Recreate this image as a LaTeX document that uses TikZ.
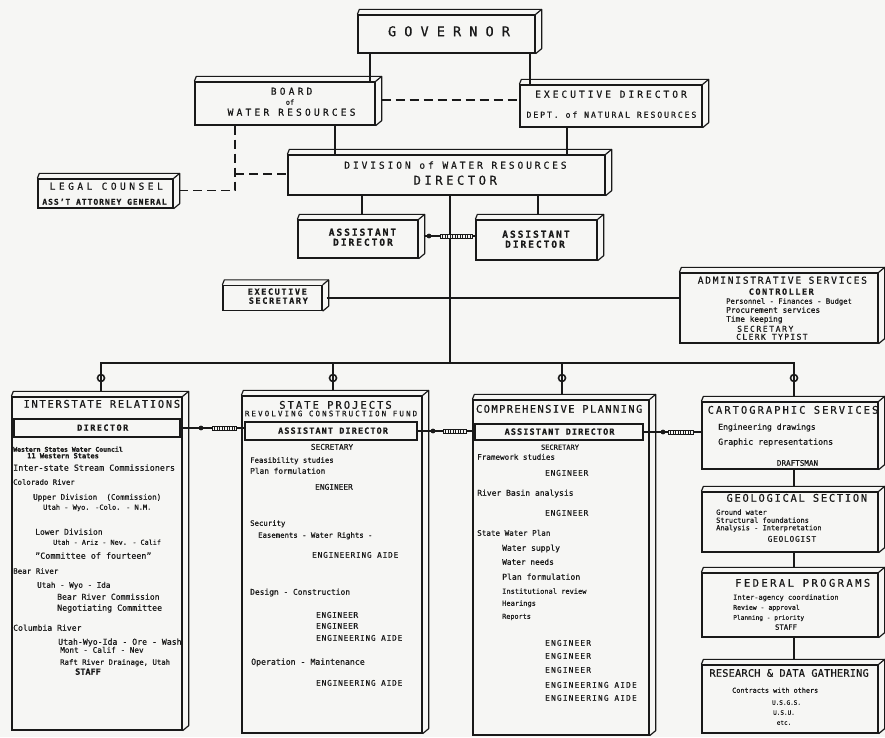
\documentclass[tikz,border=0pt]{standalone}
\usepackage{fontspec}
\setmainfont{DejaVu Sans Mono}
\setmonofont{DejaVu Sans Mono}
\definecolor{ink}{RGB}{25,25,25}
\definecolor{bg}{RGB}{246,246,244}
\newcommand\Fs[2]{\fontsize{#1}{#1}\selectfont\addfontfeature{LetterSpace=#2,FakeBold=0.5}}
\newcommand\tdbox[1]{%
  \draw[face] (#1.north west) -- ++(2,-5) -- ([shift={(6,-5)}]#1.north east) -- ([shift={(6,-5)}]#1.south east) -- (#1.south east);
  \draw[face] (#1.north east) -- ++(6,-5);}
\tikzset{
  box/.style={draw=ink, line width=1.3pt, inner sep=0pt},
  face/.style={draw=ink, line width=1.2pt, line join=round},
  conn/.style={draw=ink, line width=1.3pt},
  heavy/.style={draw=ink, line width=2.2pt},
  dsh/.style={draw=ink, line width=1.3pt, dash pattern=on 9pt off 5pt},
  txt/.style={inner sep=0pt, anchor=mid west, text=ink},
  ctxt/.style={inner sep=0pt, anchor=mid, text=ink},
  coilline/.style={draw=ink, line width=0.8pt},
  pics/coil/.style={code={
    \draw[coilline, fill=bg] (0,-2) rectangle (#1,2);
    \pgfmathsetmacro\cend{#1-1.5}
    \foreach \k in {2.5,5,...,\cend} \draw[coilline] (\k,-2) -- (\k,2);
  }}
}
\begin{document}
\begin{tikzpicture}[x=1pt,y=-1pt]
\fill[bg] (0,0) rectangle (885,737);
\useasboundingbox (0,0) rectangle (885,737);

% ---------- boxes ----------
\node[box, minimum width=177, minimum height=38] (gov) at (446.5,34) {};
\node[box, minimum width=180, minimum height=43] (board) at (285,103.5) {};
\node[box, minimum width=182, minimum height=42] (exec) at (611,106) {};
\node[box, minimum width=317, minimum height=40] (div) at (446.5,175) {};
\node[box, minimum width=135, minimum height=29] (legal) at (105.5,193.5) {};
\node[box, minimum width=120, minimum height=38] (asl) at (358,239) {};
\node[box, minimum width=121, minimum height=40] (asr) at (536.5,240) {};
\node[box, minimum width=99, minimum height=25] (esec) at (272.5,298) {};
\node[box, minimum width=198, minimum height=70] (admin) at (779,308) {};
\node[box, minimum width=170, minimum height=333] (inter) at (97,563.5) {};
\node[box, minimum width=180, minimum height=337] (state) at (332,564.5) {};
\node[box, minimum width=176, minimum height=335] (comp) at (561,567.5) {};
\node[box, minimum width=176, minimum height=67] (cart) at (790,435.5) {};
\node[box, minimum width=176, minimum height=60] (geo) at (790,522) {};
\node[box, minimum width=176, minimum height=64] (fed) at (790,605) {};
\node[box, minimum width=176, minimum height=68] (res) at (790,699) {};
\foreach \b in {gov,board,exec,div,legal,asl,asr,esec,admin,inter,state,comp,cart,geo,fed,res} {\tdbox{\b}}
\node[box, minimum width=166, minimum height=18] (idir) at (97,428) {};
\node[box, minimum width=172, minimum height=18] (sdir) at (331,431) {};
\node[box, minimum width=168, minimum height=16] (cdir) at (559,432) {};

% ---------- coordinates ----------
\coordinate (bL) at (101,363);
\coordinate (bS) at (333,363);
\coordinate (bM) at (450,363);
\coordinate (bC) at (562,363);
\coordinate (bR) at (794,363);
\coordinate (dj) at (235,174);

% ---------- solid connectors ----------
\draw[conn] (gov.south -| 370,0) -- (board.north -| 370,0);
\draw[conn] (gov.south -| 530,0) -- (exec.north -| 530,0);
\draw[conn] (board.south -| 335,0) -- (div.north -| 335,0);
\draw[conn] (exec.south -| 567,0) -- (div.north -| 567,0);
\draw[conn] (div.south -| 362,0) -- ([yshift=5pt]asl.north -| 362,0);
\draw[conn] (div.south -| 538,0) -- ([yshift=5pt]asr.north -| 538,0);
\draw[conn] (div.south -| bM) -- (bM);
\draw[conn] ([yshift=5pt]inter.north -| bL) -- (bL) -- (bR) -- ([yshift=5pt]cart.north -| bR);
\draw[conn] (bS) -- ([yshift=5pt]state.north -| bS);
\draw[conn] (bC) -- ([yshift=5pt]comp.north -| bC);
\foreach \c in {bL,bS,bC,bR} \draw[conn, line width=1.6pt] ([yshift=-15pt]\c) circle[radius=3.5pt];
\draw[conn] ([xshift=4pt]esec.east) -- (admin.west |- esec.east);
\draw[heavy] (cart.south -| bR) -- ([yshift=5pt]geo.north -| bR);
\draw[heavy] (geo.south -| bR) -- ([yshift=5pt]fed.north -| bR);
\draw[heavy] (fed.south -| bR) -- ([yshift=5pt]res.north -| bR);

% ---------- dashed connectors ----------
\draw[dsh] ([shift={(6,-3.5)}]board.east) -- (exec.west |- 0,100);
\draw[dsh] (board.south -| dj) |- ([shift={(5,-3)}]legal.east);
\draw[dsh] (dj) -- (div.west |- dj);

% ---------- coil connectors ----------
\draw[conn] ([shift={(5,-3)}]asl.east) -- (asr.west |- 0,236);
\fill[ink] (429,236) circle[radius=2.4pt];
\pic at (440,236) {coil=32};
\draw[conn] (idir.east) -- (sdir.west |- idir.east);
\fill[ink] (201,428) circle[radius=2.4pt];
\pic at (212,428) {coil=24};
\draw[conn] (sdir.east) -- (cdir.west |- sdir.east);
\fill[ink] (433,431) circle[radius=2.4pt];
\pic at (443,431) {coil=23};
\draw[conn] (cdir.east) -- (cart.west |- cdir.east);
\fill[ink] (663,432) circle[radius=2.4pt];
\pic at (668,432) {coil=25};

% ---------- centred texts ----------
\foreach \x/\y/\s/\l/\t [count=\i] in {
 449/33.5/13.5/0/{G O V E R N O R},
 290/92/9.6/33/{BOARD},
 290/102/7/0/{of},
 290/113/9.6/33/{WATER RESOURCES},
 609.5/95/9.6/31/{EXECUTIVE DIRECTOR},
 610.5/115/8.2/23/{DEPT. of NATURAL RESOURCES},
 454/166/9.6/30/{DIVISION of WATER RESOURCES},
 453.5/182/12.3/28/{DIRECTOR},
 104.5/187/9.6/36/{LEGAL COUNSEL},
 104/202/8/12/{\bfseries ASS'T ATTORNEY GENERAL},
 361.5/233/9.6/20/{\bfseries ASSISTANT},
 362/243/9.6/20/{\bfseries DIRECTOR},
 535/235/9.6/20/{\bfseries ASSISTANT},
 534/245/9.6/20/{\bfseries DIRECTOR},
 276.5/292/8.5/19/{\bfseries EXECUTIVE},
 277.5/301/8.5/19/{\bfseries SECRETARY},
 781.5/281/9.6/18/{ADMINISTRATIVE SERVICES},
 780.5/292/8.5/18/{\bfseries CONTROLLER},
 101/405/10.5/16/{INTERSTATE RELATIONS},
 102/428/8.5/17/{\bfseries DIRECTOR},
 88/672/8.5/0/{\bfseries STAFF},
 334.5/406/10.5/19/{STATE PROJECTS},
 330/413.5/7.5/28/{REVOLVING CONSTRUCTION FUND},
 332.5/431/8.5/13/{\bfseries ASSISTANT DIRECTOR},
 332/447/7.8/0/{SECRETARY},
 558.5/410/10.5/13/{COMPREHENSIVE PLANNING},
 559/432/8.5/13/{\bfseries ASSISTANT DIRECTOR},
 560/447/7/0/{SECRETARY},
 792/411/10.5/19/{CARTOGRAPHIC SERVICES},
 797.5/463/7.6/0/{DRAFTSMAN},
 796/499/10.5/16/{GEOLOGICAL SECTION},
 791.5/539/7.8/10/{GEOLOGIST},
 801.5/584/10.5/23/{FEDERAL PROGRAMS},
 786/627/7.3/0/{STAFF},
 789/674/10.3/2/{RESEARCH \& DATA GATHERING},
 786.5/702/6/0/{U.S.G.S.},
 784/712/6/0/{U.S.U.},
 784/722/6/0/{etc.}}
 {\pgfmathsetmacro\dx{\l*\s/200}
  \node[ctxt, font=\Fs{\s}{\l}, xshift=\dx pt] (c\i) at (\x,\y) {\t};}

% ---------- left aligned texts ----------
\foreach \x/\y/\s/\l/\t [count=\i] in {
 726/301/7.2/0/{Personnel - Finances - Budget},
 726/310/7.8/0/{Procurement services},
 726/319/7.8/0/{Time keeping},
 737/329/8/20/{SECRETARY},
 736/337/8/17/{CLERK TYPIST},
 13/449/6.5/0/{\bfseries Western States Water Council},
 27/455.5/7/0/{\bfseries 11 Western States},
 13/468/8.4/0/{Inter-state Stream Commissioners},
 13/482/7.3/0/{Colorado River},
 33/497/7.6/0/{Upper Division\ \ (Commission)},
 43/507/7/0/{Utah - Wyo. -Colo. - N.M.},
 35/532/8/0/{Lower Division},
 53/542/6.8/0/{Utah - Ariz - Nev. - Calif},
 35/556/8.4/0/{\symbol{34}Committee of fourteen\symbol{34}},
 13/571/7.5/0/{Bear River},
 37/585/7.6/0/{Utah - Wyo - Ida},
 57/597/8.1/0/{Bear River Commission},
 57/608/8.3/0/{Negotiating Committee},
 13/628/8.1/0/{Columbia River},
 58/642/8.2/0/{Utah-Wyo-Ida - Ore - Wash},
 60/650/7.7/0/{Mont - Calif - Nev},
 60/662/7.3/0/{Raft River Drainage, Utah},
 250/460/7.3/0/{Feasibility studies},
 250/471/7.8/0/{Plan formulation},
 315/487/7.8/0/{ENGINEER},
 250/523/7.3/0/{Security},
 258/535/7.3/0/{Easements - Water Rights -},
 312/555/7.8/10/{ENGINEERING AIDE},
 250/592/7.9/0/{Design - Construction},
 316/615/7.8/8/{ENGINEER},
 316/626/7.8/8/{ENGINEER},
 316/638/7.8/10/{ENGINEERING AIDE},
 251/662/8.2/0/{Operation - Maintenance},
 316/683/7.8/10/{ENGINEERING AIDE},
 477/457/7.6/0/{Framework studies},
 545/473/7.8/10/{ENGINEER},
 477/493/8/0/{River Basin analysis},
 545/513/7.8/10/{ENGINEER},
 477/533/7.6/0/{State Water Plan},
 502/548/8/0/{Water supply},
 502/562/7.8/0/{Water needs},
 502/577/8.1/0/{Plan formulation},
 502/591/7/0/{Institutional review},
 502/603/7/0/{Hearings},
 502/616/6.8/0/{Reports},
 545/643/7.8/15/{ENGINEER},
 545/656/7.8/15/{ENGINEER},
 545/670/7.8/15/{ENGINEER},
 545/685/7.8/15/{ENGINEERING AIDE},
 545/698/7.8/15/{ENGINEERING AIDE},
 718/427/8.1/0/{Engineering drawings},
 718/442/8.3/0/{Graphic representations},
 716/512/7/0/{Ground water},
 716/520/7/0/{Structural foundations},
 716/527.5/7/0/{Analysis - Interpretation},
 733/597/7/0/{Inter-agency coordination},
 733/607/6.5/0/{Review - approval},
 733/617/6.2/0/{Planning - priority},
 732/690/6.8/0/{Contracts with others}}
 {\node[txt, font=\Fs{\s}{\l}] (l\i) at (\x,\y) {\t};}
\end{tikzpicture}
\end{document}
